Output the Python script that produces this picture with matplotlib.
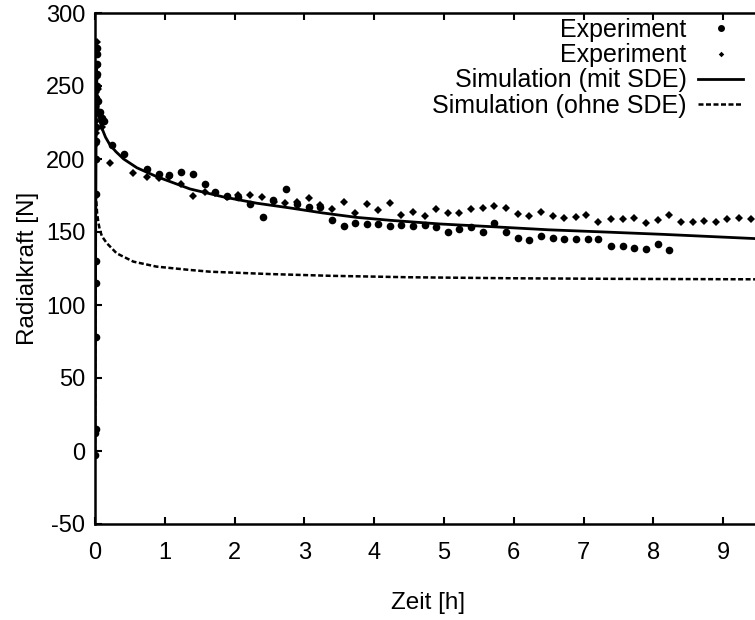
import numpy as np
import matplotlib.pyplot as plt

plt.rcParams['font.family'] = ['Liberation Sans', 'DejaVu Sans']
plt.rcParams['axes.unicode_minus'] = False

# Experiment (circles): time [h], radial force [N]
exp1_t = [0.0, 0.0, 0.01, 0.01, 0.01, 0.01, 0.01, 0.01, 0.02, 0.02, 0.02, 0.02,
          0.03, 0.03, 0.03, 0.03, 0.03, 0.05, 0.07, 0.1, 0.13,
          0.24, 0.41, 0.74, 0.91, 1.06, 1.23, 1.40, 1.57, 1.72, 1.89, 2.05, 2.22,
          2.40, 2.55, 2.74, 2.89, 3.06, 3.22, 3.39, 3.56, 3.72, 3.89, 4.06, 4.22,
          4.39, 4.56, 4.72, 4.89, 5.06, 5.22, 5.39, 5.56, 5.72, 5.89, 6.06, 6.22,
          6.39, 6.56, 6.72, 6.89, 7.06, 7.2, 7.39, 7.56, 7.72, 7.89, 8.06, 8.22]
exp1_f = [-3, 12, 15, 78, 115, 130, 176, 200, 212, 222, 232, 242,
          250, 258, 265, 272, 276, 240, 232, 228, 226,
          209.6, 203.5, 193, 189.5, 189.1, 191.4, 189.5, 182.9, 177.7, 174.7, 174.2, 169.2,
          160.1, 172, 179.7, 169.2, 167.4, 167.4, 158.3, 154.1, 156, 155.5, 155.3, 154.4,
          154.8, 154.1, 154.8, 153.2, 150.3, 151.9, 153.2, 150.3, 156, 150.3, 145.7, 144.6,
          147.3, 145.7, 145.2, 145, 145.5, 145, 140.4, 140.4, 138.8, 138.4, 141.8, 137.7]

# Experiment (diamonds)
exp2_t = [0.0, 0.01, 0.02, 0.02, 0.02, 0.02, 0.03, 0.03, 0.03, 0.03, 0.05, 0.07, 0.1,
          0.22, 0.55, 0.74, 0.91, 1.06, 1.23, 1.40, 1.57, 1.72, 1.89, 2.05, 2.22,
          2.39, 2.56, 2.72, 2.89, 3.06, 3.22, 3.39, 3.56, 3.72, 3.89, 4.06, 4.22,
          4.39, 4.56, 4.72, 4.89, 5.06, 5.22, 5.39, 5.56, 5.72, 5.89, 6.06, 6.22,
          6.39, 6.56, 6.72, 6.89, 7.04, 7.2, 7.39, 7.56, 7.72, 7.89, 8.06, 8.22,
          8.39, 8.56, 8.72, 8.89, 9.06, 9.22, 9.39]
exp2_f = [200, 210, 218, 226, 236, 246, 256, 264, 272, 280, 248, 230, 222,
          197.1, 190.2, 188, 187, 188, 182.9, 174.9, 177.7, 176.5, 174.2, 175.4, 175.4,
          174.2, 170.8, 169.7, 170.8, 173.1, 168.5, 165.6, 170.8, 163.3, 169.2, 165.1, 169.7,
          161.7, 163.5, 161, 165.6, 163.3, 163.3, 165.6, 166.2, 167.8, 166.2, 162.4, 161,
          163.5, 161, 159.4, 160.1, 161.7, 156.7, 158.7, 158.7, 159.4, 156, 158.3, 161.7,
          157.1, 157.1, 157.8, 156.7, 158.7, 159.4, 158.7]

# Simulation mit SDE
sim1_t = [0, 0.01, 0.02, 0.03, 0.05, 0.07, 0.1, 0.15, 0.21, 0.3, 0.41, 0.6, 0.88,
          1.36, 1.84, 2.32, 2.79, 3.27, 3.75, 4.23, 4.94, 5.74, 6.5, 7.3, 8.13, 9.45, 10]
sim1_f = [0, 150, 265, 245, 232, 226, 221, 215, 210, 205, 200, 194, 188,
          179.5, 174, 169.7, 166.5, 163, 160, 158, 155.5, 153.5, 151.5, 150, 148.4, 145.5, 144.5]

# Simulation ohne SDE
sim2_t = [0, 0.005, 0.01, 0.02, 0.03, 0.05, 0.07, 0.1, 0.17, 0.31, 0.55, 0.88,
          1.36, 1.65, 2.5, 3.37, 4.5, 6, 7.5, 9.45, 10]
sim2_f = [0, 130, 178, 170, 163, 156, 151.4, 147, 142.3, 135.4, 129.7, 126.3,
          124, 122.8, 121.2, 120, 119, 118.3, 117.9, 117.6, 117.5]

fig = plt.figure(figsize=(7.55, 6.2), dpi=100)
# axes runs a little past the right edge of the picture (cropped like the original)
ax = fig.add_axes([95 / 755, 1 - 524 / 620, 666 / 755, 511 / 620])

ax.plot(sim1_t, sim1_f, color='black', lw=2.0, label='Simulation (mit SDE)')
ax.plot(sim2_t, sim2_f, color='black', lw=1.8, dashes=(2.0, 1.0),
        label='Simulation (ohne SDE)')
ax.plot(exp1_t, exp1_f, 'o', color='black', ms=5.5, mew=0, label='Experiment')
ax.plot(exp2_t, exp2_f, 'D', color='black', ms=3.8, mew=0, label='Experiment')

ax.set_xlim(0, 9.54)
ax.set_ylim(-50, 300)
ax.set_xticks(range(0, 10))
ax.set_yticks(range(-50, 301, 50))

for s in ax.spines.values():
    s.set_linewidth(1.8)
ax.tick_params(direction='in', length=5, width=1.5, labelsize=17,
               top=True, right=False)
ax.tick_params(axis='x', pad=13)
ax.tick_params(axis='y', pad=7)

ax.set_xlabel('Zeit [h]', fontsize=17.5, labelpad=20)
ax.set_ylabel('Radialkraft [N]', fontsize=17.5, labelpad=5)

h, l = ax.get_legend_handles_labels()
order = [2, 3, 0, 1]
leg = ax.legend([h[i] for i in order], [l[i] for i in order],
                loc='upper right', bbox_to_anchor=(743 / 755, 1 - 18 / 620),
                bbox_transform=fig.transFigure, frameon=False,
                markerfirst=False, fontsize=18, labelspacing=0.05,
                handlelength=1.8, handletextpad=0.45, borderpad=0,
                borderaxespad=0)
leg.legend_handles[0].set_markersize(5)
leg.legend_handles[1].set_markersize(2.8)
for t in leg.get_texts():
    t.set_ha('right')

fig.savefig('out.png', dpi=100)
